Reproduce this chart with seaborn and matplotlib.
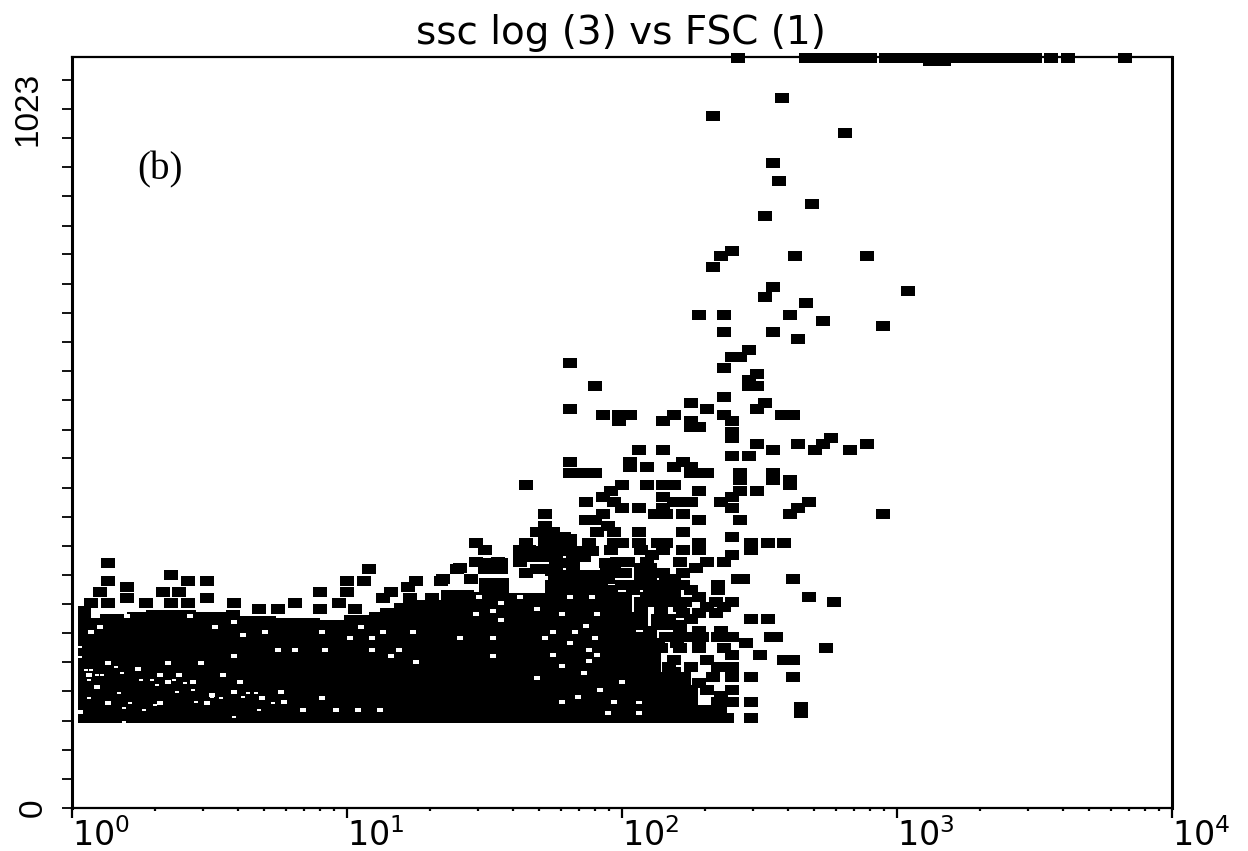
import numpy as np
import pandas as pd
import matplotlib
matplotlib.use("Agg")
import matplotlib.pyplot as plt
from matplotlib.ticker import LogLocator, NullFormatter
import seaborn as sns

# everything: SSC channel, then log10(FSC) of the events in that row
event_ssc = [1023, 1018, 968, 943, 921, 880, 855, 824, 807, 760, 752, 737, 711, 705, 697, 689, 672, 664, 657, 649,
             640, 625, 615, 607, 600, 592, 584, 576, 561, 552, 544, 536, 528, 520, 513, 505, 496, 488, 480, 472,
             465, 457, 447, 441, 432, 424, 417, 409, 401, 393, 385, 376, 370, 361, 352, 345, 336, 327, 321, 312,
             304, 297, 288, 281, 274, 266, 258, 250, 233, 225, 218, 209, 202, 192, 186, 179, 161, 153, 145, 138,
             130, 123]
event_log_fsc = [
    [2.42, 2.67, 2.71, 2.76, 2.81, 2.85, 2.90, 2.96, 3.00, 3.05, 3.10, 3.15, 3.20, 3.24, 3.29, 3.34, 3.39, 3.43,
     3.48, 3.50, 3.56, 3.62, 3.83],
    [3.12, 3.15, 3.17], [2.58], [2.33], [2.81], [2.55], [2.57], [2.69], [2.52], [2.40], [2.36, 2.63, 2.89], [2.33],
    [2.55], [3.04], [2.52], [2.67], [2.28, 2.37, 2.61], [2.73], [2.95], [2.37, 2.55],
    [2.64], [2.46], [2.40, 2.43], [1.81], [2.37], [2.49], [2.46], [1.90, 2.46, 2.49], [2.37], [2.25, 2.52],
    [1.81, 2.31, 2.49], [1.93, 1.99, 2.03, 2.19, 2.37, 2.58, 2.62], [1.99, 2.15, 2.25, 2.40], [2.25, 2.28], [2.40],
    [2.40, 2.76], [2.49, 2.64, 2.73, 2.89], [2.06, 2.15, 2.55, 2.70, 2.83], [2.40, 2.46], [1.81, 2.03, 2.22],
    [2.03, 2.09, 2.19, 2.25], [1.81, 1.85, 1.90, 2.25, 2.28, 2.31, 2.43, 2.55], [2.43, 2.55, 2.61],
    [1.65, 2.00, 2.09, 2.15, 2.19, 2.61], [1.96, 2.28, 2.43, 2.49], [1.93, 2.15, 2.40],
    [1.87, 1.97, 2.19, 2.22, 2.25, 2.36, 2.68], [2.00, 2.06, 2.15, 2.40, 2.64],
    [1.72, 1.93, 2.12, 2.16, 2.22, 2.61, 2.95], [1.87, 1.90, 2.28, 2.43], [1.72, 1.95],
    [1.69, 1.75, 1.91, 1.97, 2.06, 2.22], [1.79, 2.40],
    [1.47, 1.65, 1.88, 1.97, 2.00, 2.06, 2.13, 2.16, 2.28, 2.47, 2.53, 2.59],
    [1.50, 1.63, 1.66, 1.76, 1.79, 1.96, 2.07, 2.15, 2.22, 2.28, 2.47], [1.69, 2.11, 2.40],
    [1.47, 1.55, 1.63, 1.98, 2.02, 2.09, 2.21, 2.31, 2.37], [1.41, 1.55, 1.82, 2.07, 2.10, 2.27], [1.65, 2.15, 2.22],
    [1.35, 1.45, 2.42, 2.44, 2.62], [2.00, 2.14, 2.22, 2.35], [2.04, 2.25, 2.35], [2.09, 2.19, 2.28, 2.68],
    [2.16, 2.34, 2.40, 2.77], [2.31, 2.37], [2.22, 2.34], [2.07, 2.13, 2.25, 2.47, 2.53], [2.07, 2.13, 2.16],
    [1.99, 2.03, 2.16, 2.26, 2.29, 2.35, 2.40, 2.54, 2.56], [2.08, 2.13, 2.20, 2.28, 2.45], [2.37, 2.74],
    [2.07, 2.11, 2.40, 2.50], [2.00, 2.07, 2.19, 2.31, 2.59, 2.62], [2.25, 2.35, 2.40], [2.11, 2.19],
    [2.04, 2.09, 2.22, 2.33, 2.40, 2.47, 2.62], [2.16, 2.25, 2.31, 2.40], [2.07], [2.16, 2.22, 2.25, 2.35, 2.40, 2.47],
    [2.65], [2.13, 2.65], [2.21, 2.28, 2.35, 2.38, 2.47],
]

# events sitting on top of the solid band at low FSC
left_ssc = [334, 326, 318, 310, 301, 295, 286, 280, 271]
left_log_fsc = [
    [0.13], [1.08, 1.40], [0.36], [0.13, 0.42, 0.49, 1.00, 1.06, 1.25, 1.34], [0.20, 1.22],
    [0.10, 0.33, 0.39, 0.90, 1.00, 1.16], [0.20, 0.49, 1.13, 1.23, 1.31],
    [0.07, 0.13, 0.27, 0.36, 0.42, 0.59, 0.81, 0.97], [0.68, 0.75, 0.90, 1.03],
]

# crowded events around the shoulder of the band
dense_ssc = [376, 367, 359, 351, 342, 334, 326, 321, 312, 304, 297, 288, 281, 274, 266, 258, 250, 241, 233, 218,
             192, 170, 153]
dense_log_fsc = [
    [1.72, 1.74], [1.72, 1.75, 1.78, 1.81], [1.72, 1.75, 1.78, 1.81], [1.69, 1.72, 1.81, 1.85, 1.89],
    [1.63, 1.66, 1.69, 1.72, 1.76, 1.82, 1.86], [1.50, 1.53, 1.56, 1.76, 1.79, 1.82, 1.94],
    [1.50, 1.53, 1.56, 1.69, 1.72, 1.76, 1.97], [1.96, 2.01, 2.07, 2.12], [1.95, 2.07, 2.10, 2.16, 2.19],
    [2.03, 2.07, 2.10, 2.17], [1.96, 2.10, 2.14, 2.19], [1.96, 2.01, 2.14], [2.01, 2.07, 2.10, 2.23],
    [1.96, 2.01, 2.07, 2.14, 2.21], [2.01, 2.07, 2.14, 2.28], [2.01, 2.17], [2.03, 2.21], [2.10, 2.21, 2.28, 2.36],
    [2.07, 2.10, 2.21], [2.07, 2.14, 2.21, 2.28], [2.10, 2.17], [2.14, 2.21, 2.28], [2.17, 2.25, 2.36],
]

# the population is too dense to separate, so take its outline
band_log_fsc = [0.02, 0.07, 0.10, 0.20, 0.27, 0.45, 0.56, 0.61, 0.74, 0.83, 0.90, 0.99, 1.08, 1.12, 1.17, 1.25, 1.34,
                1.39, 1.46, 1.48, 1.56, 1.59, 1.70, 1.72, 1.92, 1.95, 1.99, 2.05, 2.14, 2.25, 2.38]
band_top_ssc = [276, 259, 265, 267, 270, 267, 270, 262, 259, 259, 256, 263, 267, 273, 280, 284, 297,
                297, 295, 314, 314, 293, 293, 325, 329, 284, 267, 229, 186, 140, 122]
band_floor_ssc = 116

# white gaps inside the band
gap_ssc = [314, 288, 280, 272, 268, 265, 262, 257, 254, 248, 247, 240, 236, 232, 225, 216, 209, 207, 201, 199, 198,
           194, 190, 184, 181, 177, 172, 165, 161, 158, 154, 151, 150, 145, 143, 134, 131, 130]
gap_log_fsc = [
    [1.72], [1.48, 1.63, 1.81, 1.89], [1.56], [1.69], [1.53], [1.47, 1.78, 1.91], [0.20, 0.43], [1.56], [0.59],
    [1.87], [0.10, 0.52, 1.05], [0.07, 0.70, 0.91, 1.13, 1.24, 1.75, 1.83], [0.62],
    [1.01, 1.09, 1.41, 1.53, 1.72, 1.90], [1.81], [0.75, 0.81, 0.92, 1.09, 1.19, 1.88], [1.75, 1.91],
    [0.59, 1.16, 1.53], [1.88], [1.25], [0.13, 0.35, 0.47], [1.78], [0.24], [1.86],
    [0.06, 0.32, 0.39, 0.55], [1.69], [0.35, 0.44, 0.61, 2.00], [0.09], [1.92], [0.59, 0.76], [0.51], [1.84],
    [0.69, 0.91], [0.77, 1.78, 1.97, 2.06], [0.13, 0.32, 0.49], [0.84, 0.96, 1.04, 1.12], [0.03], [1.95, 2.06],
]

# finer specks in the lower left corner of the band
speck_ssc = [220, 206, 192, 188, 184, 181, 175, 170, 168, 165, 161, 158, 157, 151, 150, 145, 143, 140, 136, 134,
             124, 117]
speck_log_fsc = [
    [0.03], [0.03], [0.16], [0.05, 0.07], [0.18], [0.09, 0.11], [0.06, 0.25, 0.29, 0.37], [0.41], [0.31], [0.09],
    [0.44], [0.38], [0.17, 0.64, 0.67], [0.51, 0.62], [0.06, 0.54, 0.69], [0.13, 0.32, 0.45], [0.21, 0.49, 0.73],
    [0.30], [0.19], [0.26, 0.68], [0.59], [0.19],
]

ssc_tick_values = [0, 40, 79, 119, 159, 199, 238, 278, 318, 357, 397, 437, 477, 516, 556, 596, 635, 675, 715, 755,
                   794, 834, 874, 913, 953, 993]
fsc_tick_values = [1, 10, 100, 1000, 10000]


def rows_to_frame(ssc_rows, log_rows):
    rows = [(10 ** lx, s) for s, lxs in zip(ssc_rows, log_rows) for lx in lxs]
    return pd.DataFrame(rows, columns=["fsc", "ssc"])


events = pd.concat([rows_to_frame(event_ssc, event_log_fsc), rows_to_frame(left_ssc, left_log_fsc),
                    rows_to_frame(dense_ssc, dense_log_fsc)])
gaps = rows_to_frame(gap_ssc, gap_log_fsc)
specks = rows_to_frame(speck_ssc, speck_log_fsc)
band_fsc = 10 ** np.array(band_log_fsc)

sns.set_theme(style="white")
plt.rcParams["font.family"] = ["DejaVu Sans"]

fig = plt.figure(figsize=(12.48, 8.51), dpi=100)
ax = fig.add_axes([72 / 1248, 43 / 851, 1100 / 1248, 751 / 851])

# flat rectangular dots like the cytometer printout
dot = [(-1, -0.78), (1, -0.78), (1, 0.78), (-1, 0.78), (-1, -0.78)]

ax.fill_between(band_fsc, band_floor_ssc, band_top_ssc, step="post", color="black", linewidth=0, zorder=2)
sns.scatterplot(data=gaps, x="fsc", y="ssc", marker=dot, s=18, color="white", linewidth=0, zorder=3, ax=ax)
sns.scatterplot(data=specks, x="fsc", y="ssc", marker=dot, s=5, color="white", linewidth=0, zorder=3, ax=ax)
sns.scatterplot(data=events, x="fsc", y="ssc", marker=dot, s=88, color="black", linewidth=0, clip_on=False,
                zorder=4, ax=ax)

ax.set_xscale("log")
ax.set_xlim(1, 10000)
ax.set_ylim(0, 1024)
ax.set_xlabel("")
ax.set_ylabel("")

ax.set_xticks(fsc_tick_values)
ax.xaxis.set_minor_locator(LogLocator(base=10, subs=range(2, 10)))
ax.xaxis.set_minor_formatter(NullFormatter())
ax.set_xticklabels([f"$10^{{{int(np.log10(v))}}}$" for v in fsc_tick_values])
ax.tick_params(axis="x", which="major", bottom=True, length=7, width=1.6, pad=0, color="black",
               labelsize=24, labelcolor="black")
ax.tick_params(axis="x", which="minor", bottom=True, length=2.5, width=1.6, color="black")
for label in ax.get_xticklabels():
    label.set_ha("left")

ax.set_yticks(ssc_tick_values)
ax.set_yticklabels([])
ax.tick_params(axis="y", which="major", left=True, length=7, width=1.3, color="black")

for side in ["left", "right"]:
    ax.spines[side].set_linewidth(2.2)
for side in ["top", "bottom"]:
    ax.spines[side].set_linewidth(1.6)
for spine in ax.spines.values():
    spine.set_color("black")

ax.text(-0.04, 953, "1023", rotation=90, ha="center", va="center", fontsize=24,
        family="Liberation Sans", color="black", transform=ax.get_yaxis_transform())
ax.text(-0.035, 0, "0", rotation=90, ha="center", va="center", fontsize=24,
        family="Liberation Sans", color="black", transform=ax.get_yaxis_transform())
ax.text(1.72, 870, "(b)", ha="left", va="center", fontsize=28, family="Liberation Serif", color="black")
fig.text(621 / 1248, 1 - 33 / 851, "ssc log (3) vs FSC (1)", ha="center", va="center", fontsize=28, color="black")

fig.savefig("out.png", dpi=100)
